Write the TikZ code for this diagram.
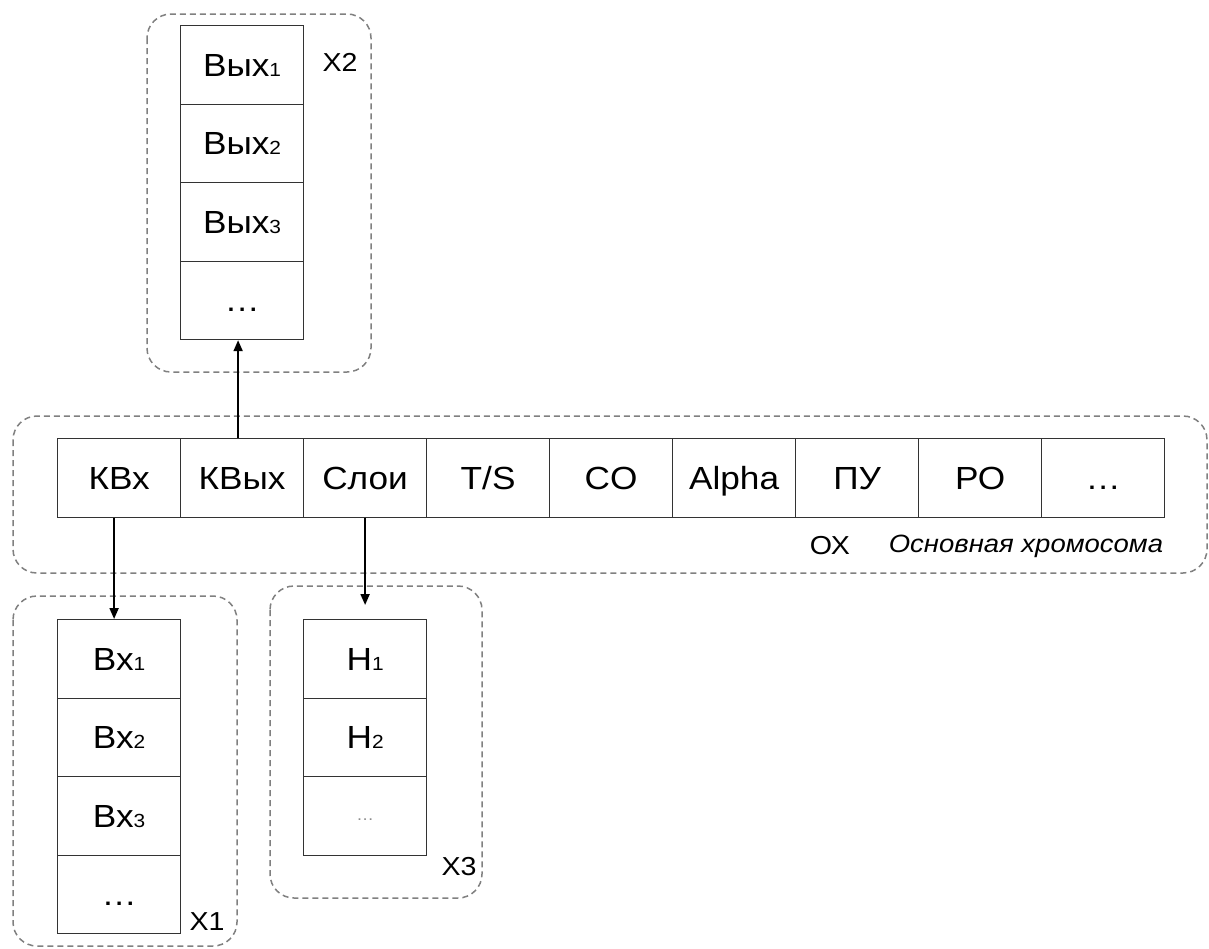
\documentclass[tikz,border=0pt]{standalone}
\usepackage{fontspec}
\setmainfont{Liberation Sans}[FakeStretch=1.1]
\usetikzlibrary{arrows.meta}
\newcommand\subd[1]{{\fontsize{19}{19}\selectfont #1}}
\begin{document}
\begin{tikzpicture}[x=1pt,y=-1pt,
  cell/.style={draw=black!80, line width=1.2pt, minimum width=123pt, minimum height=78.5pt,
    inner sep=0pt, anchor=north west, font=\fontsize{32}{32}\selectfont,
    text height=23pt, text depth=0pt},
  group/.style={draw=black!50, dash pattern=on 6pt off 4pt, line width=1.5pt, rounded corners=24pt},
  arr/.style={-{Triangle[length=11pt,width=9pt]}, line width=2pt},
  lbl/.style={font=\fontsize{26}{26}\selectfont, inner sep=0pt}]
\useasboundingbox (0,0) rectangle (1209,948);
\fill[white] (0,0) rectangle (1209,948);

% group outlines
\draw[group] (147,14) rectangle (371,372);
\draw[group] (13,416) rectangle (1207,573);
\draw[group] (13,596) rectangle (237,946);
\draw[group] (270,586) rectangle (482,898);

% X2 column
\node[cell] (vyh1) at (180,25) {Вых\subd{1}};
\node[cell] (vyh2) at (180,103.5) {Вых\subd{2}};
\node[cell] (vyh3) at (180,182) {Вых\subd{3}};
\node[cell] (vyh4) at (180,260.5) {…};
\node[lbl] (x2) at (340,62) {X2};

% main row
\node[cell] (kvx) at (57,438) {КВх};
\node[cell] (kvyh) at (180,438) {КВых};
\node[cell] (sloi) at (303,438) {Слои};
\node[cell] (ts) at (426,438) {T/S};
\node[cell] (co) at (549,438) {CO};
\node[cell] (alpha) at (672,438) {Alpha};
\node[cell] (pu) at (795,438) {ПУ};
\node[cell] (ro) at (918,438) {РО};
\node[cell] (mdots) at (1041,438) {…};
\node[lbl] (ox) at (830,546) {ОХ};
\node[lbl, font=\fontsize{25}{25}\selectfont\itshape] (osn) at (1026,546) {Основная хромосома};

% X1 column
\node[cell] (vx1) at (57,619) {Вх\subd{1}};
\node[cell] (vx2) at (57,697.5) {Вх\subd{2}};
\node[cell] (vx3) at (57,776) {Вх\subd{3}};
\node[cell] (vx4) at (57,854.5) {…};
\node[lbl] (x1) at (207,922) {X1};

% X3 column
\node[cell] (h1) at (303,619) {Н\subd{1}};
\node[cell] (h2) at (303,697.5) {Н\subd{2}};
\node[cell, font=\fontsize{16}{16}\selectfont, text=black!45, text height=10pt] (h3) at (303,776) {…};
\node[lbl] (x3) at (459,867) {X3};

% connectors
\draw[arr] ([xshift=-4pt]kvyh.north) -- ([xshift=-4pt]vyh4.south);
\draw[arr] ([xshift=-5pt]kvx.south) -- ([xshift=-5pt]vx1.north);
\draw[arr, shorten >=14pt] (sloi.south) -- (h1.north);
\end{tikzpicture}
\end{document}
